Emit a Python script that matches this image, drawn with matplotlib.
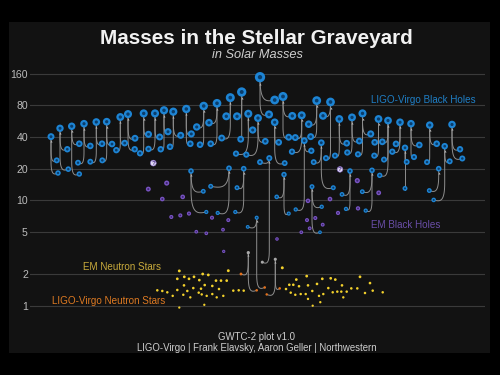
import numpy as np
import matplotlib
matplotlib.use("Agg")
import matplotlib.pyplot as plt
from matplotlib.patches import Rectangle
from matplotlib.ticker import NullLocator

# ------------------------------------------------------------------ data
# LIGO-Virgo merger events: horizontal layout slot and remnant (final) mass
event_x = [51, 60, 71.7, 84, 96.3, 106.7, 120.3, 128, 143.7, 155,
           164, 173.3, 186.3, 203.7, 217, 230.3, 241.7, 248.3, 258, 260,
           274.7, 283, 301.7, 316.7, 330.5, 339.3, 352, 362.5, 378.5, 388,
           400, 411, 429.7, 452, 191, 229, 243.7, 269.3, 284, 304.3,
           312, 321.3, 350, 372, 405, 444.7, 438.7, 256.7, 248.3, 275.3]
final_mass = [40.3, 48.4, 50.6, 53.5, 55.5, 55.9, 61.9, 66, 67, 67,
              71.7, 69.6, 73.8, 78.8, 83.6, 94.6, 107, 66.5, 60.5, 148,
              55.2, 97, 64.3, 88.6, 86, 59.3, 61.4, 67, 59.3, 57.3,
              55.2, 53.5, 51.9, 52.6, 19, 20.2, 20, 25.2, 17.6, 36.9,
              13.5, 35.3, 19, 19.3, 31.6, 32.7, 20, 6.85, 3.19, 2.76]
final_kind = ["bh"] * 48 + ["gap", "gap"]

# merger components: parent event, layout slot, mass, kind
comp_event = [0, 0, 1, 1, 2, 2, 3, 3, 4, 4, 5, 5, 6, 6, 7, 7, 8, 8, 9, 9,
              10, 10, 11, 11, 12, 12, 13, 13, 14, 14, 15, 15, 16, 16, 17, 17,
              18, 18, 19, 19, 20, 20, 21, 21, 22, 22, 23, 23, 24, 24, 25, 25,
              26, 26, 27, 27, 28, 28, 29, 29, 29, 30, 30, 31, 31, 32, 32, 33, 33,
              34, 34, 35, 35, 36, 36, 37, 37, 38, 38, 39, 39, 40, 40, 41, 41,
              42, 42, 43, 43, 44, 44, 45, 45, 46, 47, 47, 48, 48, 49, 49]
comp_x = [56.7, 58, 67.3, 68.3, 79.3, 79.3, 90.3, 78, 102, 90.3, 112, 102.3,
          124.7, 116.3, 135, 134.7, 148.5, 140, 159.7, 148.5,
          168, 160.7, 180.7, 170, 191.3, 190.3, 196.7, 200, 209, 210.7,
          226.3, 221.7, 237, 240.7, 252.7, 236, 265.3, 246.3, 274.7, 269,
          278.7, 284.7, 292.3, 288.7, 295.3, 292, 308.7, 310.7, 323, 326,
          346.7, 335, 359.3, 347.3, 370.7, 358, 374.7, 374.3, 382.3, 384, 379.7,
          396, 392.3, 419.3, 414, 436.7, 427, 460, 462.3,
          203.3, 206.3, 210.7, 217.7, 237, 235.3, 260, 262.3, 276.7, 288.7,
          311.3, 295.7, 321.7, 320, 313.7, 333.3, 342, 346, 362.3, 365.7,
          406.7, 405, 449.7, 433.7, 429.3, 247.7, 264.7, 241, 256.7, 279.7, 266.7]
comp_mass = [24, 18.2, 30.6, 19.8, 34.5, 17.8, 32.9, 22.8, 34.5, 23.3, 34.3, 24,
             35, 30, 38.9, 30.6, 42.4, 28, 40, 30.8,
             44.9, 30.6, 41.5, 32.3, 42.8, 34.5, 49.8, 33.8, 54.7, 34.5,
             62.9, 39.1, 62.9, 38.1, 46.6, 27.8, 36.4, 27.2, 89.8, 65.5,
             35.6, 22.6, 63.4, 39.8, 39.5, 29, 52.9, 40.3, 63.6, 25.2,
             34.9, 26.6, 36.6, 28.5, 42.8, 27.4, 35.6, 26.6, 36, 24.4, 17.3,
             34.4, 29, 33.6, 25.8, 34.5, 23.1, 30.6, 25,
             12.2, 7.76, 13.6, 7.6, 13.2, 7.76, 23.1, 2.59, 10.8, 7.5,
             29.6, 8.2, 8.7, 4.98, 23.1, 13.2, 11.4, 8.3, 12.1, 8.0,
             23.2, 13.0, 23.5, 10.1, 12.4, 5.6, 1.49, 2.0, 1.40, 1.46, 1.28]
comp_kind = ["bh"] * 76 + ["gap"] + ["bh"] * 18 + ["ns", "ns", "ns", "ns", "ns"]

# electromagnetically observed black holes
em_bh_x = [148.3, 166.7, 162.3, 182.7, 171.3, 180.3, 189, 212, 228.3, 196.3,
           206.3, 223, 223.7, 277, 308, 330, 338, 358, 307, 315.3,
           322.7, 309.7, 301.3, 357.3, 378.7]
em_bh_mass = [12.8, 14.6, 10.3, 10.8, 6.96, 7.2, 7.5, 6.85, 6.5, 5.04,
              4.87, 5.27, 3.28, 4.3, 9.9, 10.3, 7.6, 8.4, 6.5, 6.8,
              5.88, 5.43, 4.98, 15.4, 11.8]

# uncertain objects shown with a question mark
unknown_x = [153.3, 340]
unknown_mass = [22.6, 19.7]

# electromagnetically observed neutron stars
em_ns_x = [179.3, 202.7, 208.3, 228.3, 184.3, 189, 194, 177.3, 199.3, 184,
           193.3, 204.7, 216, 221, 226.7, 157.3, 162.3, 167.3, 177.3, 187.3,
           201, 212.3, 219, 233.3, 238.7, 243.7, 172.7, 183.3, 190.3, 198.7,
           201.7, 206.7, 212.3, 216.7, 223.3, 179.3, 204.3,
           282.3, 306.7, 360, 296.3, 322.3, 330.7, 335.3, 289.3, 293.3, 299,
           308, 317, 342, 370, 286, 312.3, 328.3, 332.7, 337.3, 341.3,
           346.7, 351.3, 357.3, 372.7, 382.7, 290.7, 295.3, 300.7, 305.7, 323.3,
           319, 343.3, 365, 308, 320.3, 312.7]
em_ns_mass = [2.14, 2.0, 1.96, 2.15, 1.88, 1.80, 1.88, 1.80, 1.75, 1.56,
              1.47, 1.57, 1.73, 1.73, 1.73, 1.40, 1.38, 1.34, 1.41, 1.38,
              1.45, 1.54, 1.44, 1.39, 1.40, 1.39, 1.24, 1.27, 1.20, 1.33,
              1.28, 1.24, 1.29, 1.20, 1.24, 0.96, 1.02,
              2.29, 1.91, 1.88, 1.77, 1.80, 1.82, 1.77, 1.58, 1.58, 1.53,
              1.56, 1.61, 1.56, 1.64, 1.44, 1.38, 1.47, 1.34, 1.36, 1.36,
              1.36, 1.46, 1.46, 1.39, 1.34, 1.33, 1.27, 1.29, 1.29, 1.29,
              1.24, 1.20, 1.32, 1.16, 1.08, 1.00]

ytick_values = [1, 2, 5, 10, 20, 40, 80, 160]

# ------------------------------------------------------------------ style
W, H, DPI = 500, 375, 100
FONT = ["Liberation Sans", "DejaVu Sans"]
plt.rcParams["font.family"] = FONT

# (outer colour, inner core colour)
COL = {
    "bh": ("#1d84d4", "#0a3d6b"),
    "gap": ("#a9a9a9", None),
    "ns": ("#e2701c", None),
    "em_bh": ("#7853c2", "#3d2770"),
    "em_ns": ("#f3d12c", None),
}
LINE_COL = "#8e8e8e"


def radius_px(m):
    return 1.15 * np.asarray(m, dtype=float) ** 0.3


def size_pt2(r_px):
    return (2 * np.asarray(r_px) * 72.0 / DPI) ** 2


fig = plt.figure(figsize=(W / DPI, H / DPI), dpi=DPI, facecolor="black")
fig.add_artist(Rectangle((9 / W, 1 - 353 / H), (490 - 9) / W, (353 - 22) / H,
                         transform=fig.transFigure, facecolor="#121212",
                         edgecolor="none", zorder=0))

ax_top, ax_bot, x_left, x_right = 60, 320, 30, 485
ax = fig.add_axes([x_left / W, 1 - ax_bot / H, (x_right - x_left) / W,
                   (ax_bot - ax_top) / H])
ax.set_facecolor("none")
ax.set_xlim(x_left, x_right)
ax.set_yscale("log")
px_per_oct, y_one = 31.7, 305.7
ax.set_ylim(2 ** ((y_one - ax_bot) / px_per_oct), 2 ** ((y_one - ax_top) / px_per_oct))
for s in ax.spines.values():
    s.set_visible(False)
ax.set_xticks([])
ax.set_yticks(ytick_values)
ax.set_yticklabels([str(v) for v in ytick_values])
ax.yaxis.set_minor_locator(NullLocator())
ax.tick_params(axis="y", length=0, pad=1.5, labelcolor="#bcbcbc", labelsize=7.6)
for v in ytick_values:
    ax.axhline(v, color="#3a3a3a", lw=0.8, zorder=1)

# ------------------------------------------------------------------ connecting curves
to_disp = ax.transData.transform
to_data = ax.transData.inverted().transform


def curve(xr, mr, xc, mc):
    (X0, Y0), (X1, Y1) = to_disp([(xr, mr), (xc, mc)])
    dx = X1 - X0
    drop = Y0 - Y1
    h = min(abs(dx) * 1.3 + 3, max(drop, 0.5))
    pts = [(X0, Y0), (X0, Y1 + h)]
    P0 = np.array([X0, Y1 + h])
    P1 = np.array([X0, Y1 - 2.0])
    P2 = np.array([X1 - 0.6 * dx, Y1 - 2.0])
    P3 = np.array([X1, Y1])
    t = np.linspace(0, 1, 30)[:, None]
    b = ((1 - t) ** 3) * P0 + 3 * ((1 - t) ** 2) * t * P1 + 3 * (1 - t) * t ** 2 * P2 + t ** 3 * P3
    pts = np.vstack([pts, b])
    d = to_data(pts)
    return d[:, 0], d[:, 1]


for ev, xc, mc in zip(comp_event, comp_x, comp_mass):
    cx, cy = curve(event_x[ev], final_mass[ev], xc, mc)
    ax.plot(cx, cy, color=LINE_COL, lw=0.7, zorder=2, solid_capstyle="round")

# little pointer below each remnant
for xr, mr in zip(event_x, final_mass):
    (X0, Y0), = to_disp([(xr, mr)])
    tip = to_data([(X0, Y0 - radius_px(mr) - 1.2)])[0]
    ax.plot([tip[0]], [tip[1]], marker="^", ms=1.5, color="#b5b5b5",
            mec="none", zorder=2.5)

# ------------------------------------------------------------------ dots


def dots(xs, ms, kind, z=3):
    outer, inner = COL[kind]
    r = radius_px(ms)
    ax.scatter(xs, ms, s=size_pt2(r), facecolor=outer, edgecolor="none", zorder=z)
    if inner is not None:
        ax.scatter(xs, ms, s=size_pt2(r * 0.42), facecolor=inner,
                   edgecolor="none", zorder=z + 0.1)


dots(em_ns_x, em_ns_mass, "em_ns")
dots(em_bh_x, em_bh_mass, "em_bh")

for kind in ("bh", "gap", "ns"):
    xs = [x for x, k in zip(comp_x, comp_kind) if k == kind]
    ms = [m for m, k in zip(comp_mass, comp_kind) if k == kind]
    if xs:
        dots(xs, ms, kind)
    xs = [x for x, k in zip(event_x, final_kind) if k == kind]
    ms = [m for m, k in zip(final_mass, final_kind) if k == kind]
    if xs:
        dots(xs, ms, kind, z=4)

ax.scatter(unknown_x, unknown_mass, s=size_pt2(radius_px(unknown_mass)),
           facecolor="#e2dbf5", edgecolor="#8c6fd0", linewidths=0.4, zorder=4)
for x, m in zip(unknown_x, unknown_mass):
    ax.text(x, m, "?", color="#4a2f8a", fontsize=4.6, fontweight="bold",
            ha="center", va="center", zorder=5)

# ------------------------------------------------------------------ text


def ftext(x, y, s, **kw):
    fig.text(x / W, 1 - y / H, s, **kw)


ftext(256.8, 39, "Masses in the Stellar Graveyard", ha="center", va="center",
      fontsize=14.9, fontweight="bold", color="#f2f2f2")
ftext(257, 54.5, "in Solar Masses", ha="center", va="center", fontsize=9.2,
      style="italic", color="#cfcfcf")
ftext(370.7, 100, "LIGO-Virgo Black Holes", ha="left", va="center", fontsize=7.1,
      color="#1f7fc6")
ftext(371, 224.5, "EM Black Holes", ha="left", va="center", fontsize=7.1,
      color="#6a4ea8")
ftext(83.3, 266.7, "EM Neutron Stars", ha="left", va="center", fontsize=7.1,
      color="#c9ab3c")
ftext(51.7, 301, "LIGO-Virgo Neutron Stars", ha="left", va="center", fontsize=7.1,
      color="#de7a22")
ftext(257, 336.7, "GWTC-2 plot v1.0", ha="center", va="center", fontsize=6.9,
      color="#cfcfcf")
ftext(257, 347.7, "LIGO-Virgo | Frank Elavsky, Aaron Geller | Northwestern",
      ha="center", va="center", fontsize=6.9, color="#cfcfcf")

fig.savefig("out.png", dpi=DPI, facecolor="black")
